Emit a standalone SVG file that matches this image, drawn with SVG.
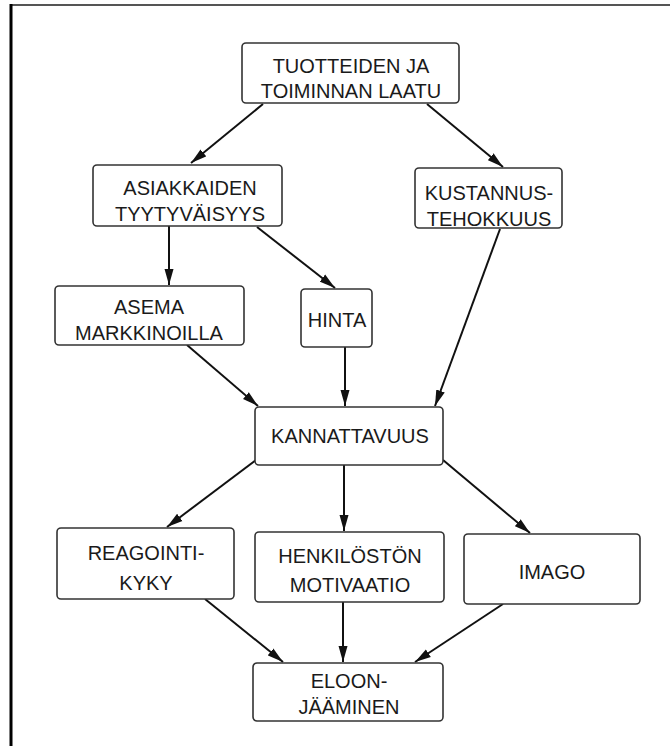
<svg xmlns="http://www.w3.org/2000/svg" width="670" height="746" viewBox="0 0 670 746">
<style>
.box{fill:#fff;stroke:#333;stroke-width:1.6}
.t{font-family:"Liberation Sans",Arial,sans-serif;font-size:20px;fill:#1a1a1a;text-anchor:middle}
.c{stroke:#111;stroke-width:2;fill:none;marker-end:url(#ah)}
</style>
<defs>
<marker id="ah" markerWidth="18" markerHeight="10" refX="16" refY="5" orient="auto" markerUnits="userSpaceOnUse">
<path d="M0,0.5 L16,5 L0,9.5 Z" fill="#111"/>
</marker>
</defs>
<rect width="670" height="746" fill="#fff"/>
<line x1="10" y1="5" x2="670" y2="5" stroke="#555" stroke-width="2"/>
<line x1="11" y1="4" x2="11" y2="746" stroke="#000" stroke-width="3"/>
<g id="connectors">
<line class="c" x1="263" y1="104" x2="191" y2="163"/>
<line class="c" x1="427" y1="104" x2="503" y2="167"/>
<line class="c" x1="169" y1="226" x2="169" y2="285"/>
<line class="c" x1="257" y1="227" x2="335" y2="288"/>
<line class="c" x1="187" y1="345" x2="258" y2="406"/>
<line class="c" x1="345" y1="347" x2="345" y2="406"/>
<line class="c" x1="500" y1="229" x2="435" y2="406"/>
<line class="c" x1="256" y1="460" x2="167" y2="527"/>
<line class="c" x1="344" y1="465" x2="344" y2="531"/>
<line class="c" x1="443" y1="460" x2="530" y2="533"/>
<line class="c" x1="205" y1="599" x2="283" y2="662"/>
<line class="c" x1="343" y1="602" x2="343" y2="662"/>
<line class="c" x1="503" y1="604" x2="415" y2="662"/>
</g>
<g id="n-laatu">
<rect class="box" x="242" y="43" width="217" height="60" rx="4"/>
<text class="t" x="351" y="73">TUOTTEIDEN JA</text>
<text class="t" x="351" y="98">TOIMINNAN LAATU</text>
</g>
<g id="n-asiakkaiden">
<rect class="box" x="93" y="165" width="189" height="61" rx="4"/>
<text class="t" x="190" y="195">ASIAKKAIDEN</text>
<text class="t" x="190" y="221">TYYTYVÄISYYS</text>
</g>
<g id="n-kustannus">
<rect class="box" x="415" y="168" width="147" height="60" rx="4"/>
<text class="t" x="489" y="200">KUSTANNUS-</text>
<text class="t" x="489" y="226">TEHOKKUUS</text>
</g>
<g id="n-asema">
<rect class="box" x="55" y="286" width="189" height="59" rx="4"/>
<text class="t" x="149" y="314">ASEMA</text>
<text class="t" x="149" y="340">MARKKINOILLA</text>
</g>
<g id="n-hinta">
<rect class="box" x="301" y="289" width="71" height="58" rx="4"/>
<text class="t" x="337" y="327">HINTA</text>
</g>
<g id="n-kannattavuus">
<rect class="box" x="255" y="407" width="188" height="58" rx="4"/>
<text class="t" x="350" y="443">KANNATTAVUUS</text>
</g>
<g id="n-reagointi">
<rect class="box" x="57" y="528" width="177" height="71" rx="4"/>
<text class="t" x="146" y="560">REAGOINTI-</text>
<text class="t" x="146" y="590">KYKY</text>
</g>
<g id="n-henkilosto">
<rect class="box" x="255" y="532" width="189" height="70" rx="4"/>
<text class="t" x="350" y="563">HENKILÖSTÖN</text>
<text class="t" x="350" y="592">MOTIVAATIO</text>
</g>
<g id="n-imago">
<rect class="box" x="464" y="534" width="176" height="70" rx="4"/>
<text class="t" x="552" y="579">IMAGO</text>
</g>
<g id="n-eloon">
<rect class="box" x="253" y="663" width="190" height="58" rx="4"/>
<text class="t" x="349" y="688">ELOON-</text>
<text class="t" x="349" y="714">JÄÄMINEN</text>
</g>
</svg>
